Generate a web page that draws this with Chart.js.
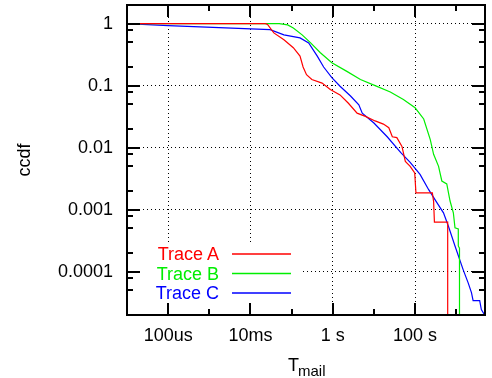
<!DOCTYPE html>
<html>
<head>
<meta charset="utf-8">
<script src="https://cdn.jsdelivr.net/npm/chart.js@4.4.0/dist/chart.umd.min.js"></script>
<style>
  html, body { margin: 0; padding: 0; background: #fff; overflow: hidden; }
  #wrap { position: relative; width: 492px; height: 378px; }
  .lbl { position: absolute; font: 18px/20px 'Liberation Sans', Arial, sans-serif; white-space: nowrap; }
  .key { right: 273px; text-align: right; }
  .sub { font-size: 15px; position: relative; top: 5px; margin-left: -1px; }
</style>
</head>
<body>
<div id="wrap">
  <canvas id="chart" width="492" height="378"></canvas>
  <div class="lbl key" id="key0" style="top:244px"></div>
  <div class="lbl key" id="key1" style="top:263.5px"></div>
  <div class="lbl key" id="key2" style="top:283px"></div>
  <div class="lbl" style="left:288px; top:355px; color:#000">T<span class="sub">mail</span></div>
</div>
<script>
const seriesNames = ["Trace A", "Trace B", "Trace C"];
const seriesColors = ["#ff0000", "#00ee00", "#0000ff"];

// ccdf curves (x in seconds)
const traceA_x = [1e-5, 0.023, 0.026, 0.037, 0.065, 0.11, 0.16, 0.19, 0.23, 0.31, 0.55, 0.87, 1.5, 2.4, 3.9, 6.2, 10.7, 17, 23, 28, 36, 48, 58, 76, 98, 105, 263, 282, 295, 620, 620];
const traceA_y = [1, 1, 0.97, 0.71, 0.55, 0.41, 0.30, 0.20, 0.15, 0.126, 0.11, 0.087, 0.071, 0.052, 0.036, 0.032, 0.027, 0.024, 0.021, 0.015, 0.0145, 0.0105, 0.006, 0.005, 0.0039, 0.00186, 0.00186, 0.00135, 0.00063, 0.00063, 1e-6];

const traceB_x = [1e-5, 0.05, 0.08, 0.11, 0.18, 0.29, 0.50, 0.95, 2.2, 4.7, 10.7, 25, 52, 100, 162, 234, 282, 372, 447, 589, 708, 851, 933, 1122, 1122, 1200, 1200];
const traceB_y = [1, 1, 0.955, 0.85, 0.66, 0.49, 0.34, 0.234, 0.17, 0.126, 0.1, 0.079, 0.06, 0.044, 0.029, 0.0135, 0.0078, 0.005, 0.0029, 0.0026, 0.00138, 0.00089, 0.00051, 0.00049, 0.00026, 0.00024, 1e-6];

const traceC_x = [1e-5, 1e-4, 0.03, 0.065, 0.16, 0.26, 0.42, 0.60, 0.95, 1.5, 2.7, 4.3, 5.2, 10, 21, 45, 76, 132, 214, 339, 490, 646, 933, 1479, 1950, 2344, 2570, 3715, 4074, 4900, 5250];
const traceC_y = [1, 0.93, 0.80, 0.66, 0.59, 0.49, 0.30, 0.20, 0.135, 0.098, 0.068, 0.049, 0.036, 0.025, 0.015, 0.0083, 0.0058, 0.0037, 0.0021, 0.0013, 0.00089, 0.00054, 0.00026, 0.000107, 0.000066, 0.000046, 0.000034, 0.000034, 0.0000245, 0.00002, 0.000016];

// axes
const xTicks = [1e-4, 1e-2, 1, 100];
const xTickLabels = ["100us", "10ms", "1 s", "100 s"];
const xMinorTicks = [1e-3, 1e-1, 10, 1000];
const yTicks = [1, 0.1, 0.01, 0.001, 0.0001];
const yTickLabels = ["1", "0.1", "0.01", "0.001", "0.0001"];
const yMinorTicks = [0.8, 0.5, 0.2, 0.08, 0.05, 0.02, 0.008, 0.005, 0.002, 8e-4, 5e-4, 2e-4, 8e-5, 5e-5];

const FONT = "'Liberation Sans', Arial, sans-serif";

function toPoints(xs, ys) {
    return xs.map((x, i) => ({ x: x, y: ys[i] }));
}

// key text as page text
seriesNames.forEach((name, i) => {
    const el = document.getElementById("key" + i);
    el.textContent = name;
    el.style.color = seriesColors[i];
});

// key box (white, hides the grid) + key sample lines
const gnuplotKey = {
    id: "gnuplotKey",
    beforeDatasetsDraw(chart) {
        const c = chart.ctx, a = chart.chartArea;
        c.save();
        c.fillStyle = "#fff";
        c.fillRect(a.left + 1, 243, 301 - a.left, a.bottom - 244);
        c.restore();
    },
    afterDatasetsDraw(chart) {
        const c = chart.ctx;
        c.save();
        const rows = [254, 273.5, 293];
        seriesColors.forEach((col, i) => {
            c.strokeStyle = col;
            c.lineWidth = 1.5;
            c.beginPath();
            c.moveTo(232, rows[i]);
            c.lineTo(291, rows[i]);
            c.stroke();
        });
        c.restore();
    }
};

// frame and inward tick marks on all four sides
const gnuplotTicks = {
    id: "gnuplotTicks",
    afterDraw(chart) {
        const c = chart.ctx, a = chart.chartArea;
        const sx = chart.scales.x, sy = chart.scales.y;
        c.save();
        c.setLineDash([]);
        c.strokeStyle = "#000";
        c.lineWidth = 2;
        const tick = (x1, y1, x2, y2) => {
            c.beginPath();
            c.moveTo(x1, y1);
            c.lineTo(x2, y2);
            c.stroke();
        };
        const xt = (v, len) => {
            const px = Math.round(sx.getPixelForValue(v));
            tick(px, a.bottom, px, a.bottom - len);
            tick(px, a.top, px, a.top + len);
        };
        const yt = (v, len) => {
            const py = Math.round(sy.getPixelForValue(v));
            tick(a.left, py, a.left + len, py);
            tick(a.right, py, a.right - len, py);
        };
        xTicks.forEach(v => xt(v, 12));
        xMinorTicks.forEach(v => xt(v, 6));
        yTicks.forEach(v => yt(v, 13));
        yMinorTicks.forEach(v => yt(v, 6));
        c.strokeRect(a.left, a.top, a.right - a.left, a.bottom - a.top);
        c.restore();
    }
};

const datasets = [
    toPoints(traceA_x, traceA_y),
    toPoints(traceB_x, traceB_y),
    toPoints(traceC_x, traceC_y)
].map((pts, i) => ({
    label: seriesNames[i],
    data: pts,
    borderColor: seriesColors[i],
    backgroundColor: seriesColors[i],
    borderWidth: 1.2,
    pointRadius: 0,
    pointHoverRadius: 0,
    tension: 0,
    fill: false
}));

const ctx = document.getElementById("chart").getContext("2d", { willReadFrequently: true });

new Chart(ctx, {
    type: "line",
    data: { datasets },
    plugins: [gnuplotKey, gnuplotTicks],
    options: {
        responsive: false,
        animation: false,
        events: [],
        devicePixelRatio: 1,
        layout: { padding: { top: 5, right: 7, left: 0, bottom: 0 } },
        plugins: { legend: { display: false }, tooltip: { enabled: false } },
        scales: {
            x: {
                type: "logarithmic",
                min: 1e-5,
                max: 5000,
                bounds: "data",
                afterBuildTicks: s => { s.ticks = xTicks.map(v => ({ value: v })); },
                afterFit: s => { s.height = 63; s.paddingLeft = 0; s.paddingRight = 0; },
                ticks: {
                    callback: (v, i) => xTickLabels[i],
                    autoSkip: false,
                    maxRotation: 0,
                    padding: 10,
                    color: "#000",
                    font: { family: FONT, size: 18 }
                },
                grid: { color: "#000", lineWidth: 1, drawTicks: false },
                border: { display: false, dash: [1, 3] }
            },
            y: {
                type: "logarithmic",
                min: 2e-5,
                max: 2,
                bounds: "data",
                afterBuildTicks: s => { s.ticks = yTicks.map(v => ({ value: v })); },
                afterFit: s => { s.width = 127; s.paddingTop = 0; s.paddingBottom = 0; },
                ticks: {
                    callback: (v, i) => yTickLabels[i],
                    autoSkip: false,
                    padding: 14,
                    color: "#000",
                    font: { family: FONT, size: 18 }
                },
                grid: { color: "#000", lineWidth: 1, drawTicks: false },
                border: { display: false, dash: [1, 3] },
                title: {
                    display: true,
                    text: "ccdf",
                    color: "#000",
                    font: { family: FONT, size: 18 },
                    padding: { top: 14, bottom: 0 }
                }
            }
        }
    }
});
</script>
</body>
</html>
